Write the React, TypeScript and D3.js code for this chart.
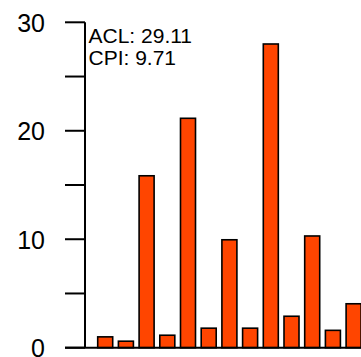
import React from "react";
import * as d3 from "d3";

const categories = ["1", "2", "3", "4", "5", "6", "7", "8", "9", "10", "11", "12", "13"];
const values = [1.0, 0.6, 15.85, 1.15, 21.15, 1.8, 9.95, 1.8, 28.0, 2.9, 10.3, 1.6, 4.05];
const tickValues = [0, 5, 10, 15, 20, 25, 30];
const tickLabels = ["0", "", "10", "", "20", "", "30"];
const annotations = ["ACL: 29.11", "CPI: 9.71"];

const W = 361;
const H = 357;
const FONT = "'Liberation Sans', Arial, sans-serif";

export default function App() {
  const axisX = 85;
  const y = d3.scaleLinear().domain([0, 30]).range([347.7, 22.3]);
  const step = 20.7;
  const pi = 0.275;
  const po = 12.7 / step;
  const x = d3
    .scaleBand<string>()
    .domain(categories)
    .range([axisX, axisX + step * (categories.length - pi + 2 * po)])
    .paddingInner(pi)
    .paddingOuter(po)
    .align(0.5);

  return (
    <svg
      width={W}
      height={H}
      style={{ position: "absolute", left: 0, top: 0, background: "#fff" }}
    >
      <rect x={0} y={0} width={W} height={H} fill="#fff" />
      {values.map((v, i) => (
        <rect
          key={i}
          x={x(categories[i])!}
          y={y(v)}
          width={x.bandwidth()}
          height={y(0) - y(v)}
          fill="#FF4500"
          stroke="#000"
          strokeWidth={1.6}
        />
      ))}
      <line x1={65} x2={W + 5} y1={y(0)} y2={y(0)} stroke="#000" strokeWidth={2} />
      <line x1={axisX} x2={axisX} y1={y(30)} y2={y(0)} stroke="#000" strokeWidth={2} />
      {tickValues.map((t, i) => (
        <g key={t}>
          <line x1={65} x2={axisX} y1={y(t)} y2={y(t)} stroke="#000" strokeWidth={2} />
          {tickLabels[i] && (
            <text
              x={45}
              y={y(t) + 9.3}
              textAnchor="end"
              fontFamily={FONT}
              fontSize={25}
              fill="#000"
            >
              {tickLabels[i]}
            </text>
          )}
        </g>
      ))}
      {annotations.map((a, i) => (
        <text
          key={a}
          x={88.5}
          y={42.7 + i * 22.6}
          fontFamily={FONT}
          fontSize={21}
          fill="#000"
        >
          {a}
        </text>
      ))}
    </svg>
  );
}
